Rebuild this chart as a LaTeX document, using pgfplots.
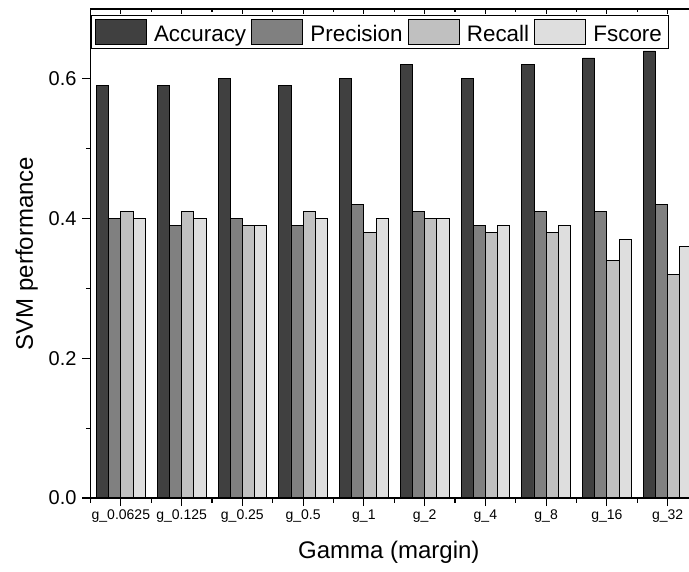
\documentclass[border=0pt]{standalone}
\usepackage{pgfplots}
\pgfplotsset{compat=1.18}
\usepackage{fontspec}
\setmainfont{Liberation Sans}
\definecolor{cA}{RGB}{64,64,64}
\definecolor{cP}{RGB}{128,128,128}
\definecolor{cR}{RGB}{192,192,192}
\definecolor{cF}{RGB}{222,222,222}
\pgfplotsset{
  mylegend/.style={legend image code/.code={\draw[##1,line width=0.9bp] (0bp,-12.5bp) rectangle (51bp,12.5bp);}},
  mybox/.style={at={(90.5bp,-9bp)}, anchor=north west, scale only axis, width=607.5bp, height=489bp,
    xmin=-0.5, xmax=9.5, ymin=0, ymax=0.7,
    xtick={0,...,9}, minor xtick={-0.5,0.5,...,9.5},
    ytick={0,0.2,0.4,0.6}, minor ytick={0.1,0.3,0.5},
    axis line style={line width=1.3bp},
    tick style={line width=1.2bp, black}},
}
\begin{document}
\begin{tikzpicture}
\begin{axis}[mybox,
  ybar, bar width=0.2,
  xticklabels={g\_0.0625,g\_0.125,g\_0.25,g\_0.5,g\_1,g\_2,g\_4,g\_8,g\_16,g\_32},
  tick align=outside, xtick pos=left, ytick pos=left,
  major tick length=8bp, minor tick length=4.5bp,
  x tick label style={font=\fontsize{14bp}{16bp}\selectfont},
  /pgf/number format/assume math mode=true,
  y tick label style={font=\fontsize{20bp}{24bp}\selectfont, xshift=-2.5bp, /pgf/number format/fixed, /pgf/number format/fixed zerofill, /pgf/number format/precision=1},
  xlabel={Gamma (margin)},
  xlabel style={font=\fontsize{24bp}{28bp}\selectfont, at={(axis description cs:0.491,-0.1247)}, anchor=base},
  ylabel={SVM performance},
  ylabel style={font=\fontsize{24bp}{28bp}\selectfont, at={(axis description cs:-0.0947,0.5)}, anchor=base},
  legend columns=4,
  legend style={at={(0,1)}, anchor=north west, xshift=0.5bp, yshift=-6bp, draw=black, line width=1.1bp,
    font=\fontsize{22.4bp}{26bp}\selectfont, inner xsep=3.5bp, inner ysep=3.5bp,
    nodes={inner xsep=3.5bp, inner ysep=1bp, yshift=-2.5bp},
    /tikz/every odd column/.append style={column sep=3.6bp},
    /tikz/every even column/.append style={column sep=1.8bp}},
  legend cell align=left,
]
\addplot[fill=cA, draw=black, line width=0.8bp, bar shift=-0.3, mylegend] coordinates {(0,0.59) (1,0.59) (2,0.60) (3,0.59) (4,0.60) (5,0.62) (6,0.60) (7,0.62) (8,0.63) (9,0.64)};
\addplot[fill=cP, draw=black, line width=0.8bp, bar shift=-0.1, mylegend] coordinates {(0,0.40) (1,0.39) (2,0.40) (3,0.39) (4,0.42) (5,0.41) (6,0.39) (7,0.41) (8,0.41) (9,0.42)};
\addplot[fill=cR, draw=black, line width=0.8bp, bar shift=0.1, mylegend] coordinates {(0,0.41) (1,0.41) (2,0.39) (3,0.41) (4,0.38) (5,0.40) (6,0.38) (7,0.38) (8,0.34) (9,0.32)};
\addplot[fill=cF, draw=black, line width=0.8bp, bar shift=0.3, mylegend] coordinates {(0,0.40) (1,0.40) (2,0.39) (3,0.40) (4,0.40) (5,0.40) (6,0.39) (7,0.39) (8,0.37) (9,0.36)};
\legend{Accuracy,Precision,Recall,Fscore}
\end{axis}
\begin{axis}[mybox, tick align=inside, xtick pos=right, ytick pos=right,
  xticklabels={}, yticklabels={},
  major tick length=5bp, minor tick length=3.5bp]
\end{axis}
\pgfresetboundingbox
\path[use as bounding box] (0,0) rectangle (689bp,-572bp);
\end{tikzpicture}
\end{document}
